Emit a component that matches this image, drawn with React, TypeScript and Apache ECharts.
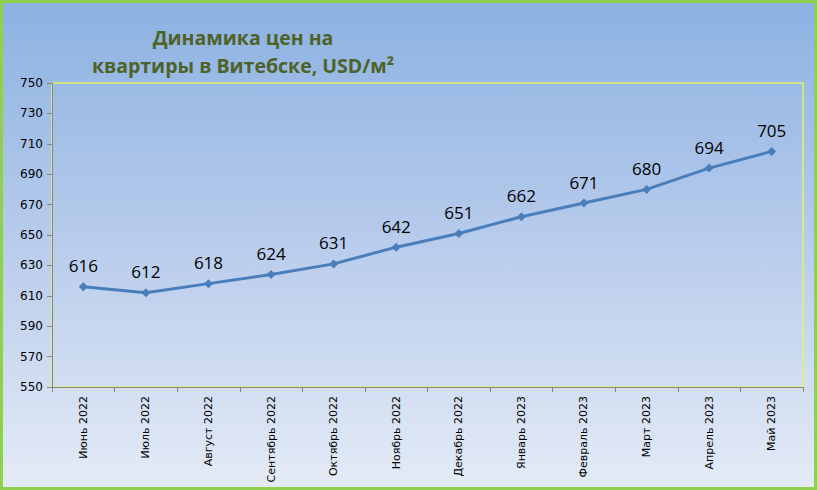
import { useEffect, useRef } from 'react'
import * as echarts from 'echarts'

const months = [
  'Июнь 2022', 'Июль 2022', 'Август 2022', 'Сентябрь 2022', 'Октябрь 2022', 'Ноябрь 2022',
  'Декабрь 2022', 'Январь 2023', 'Февраль 2023', 'Март 2023', 'Апрель 2023', 'Май 2023',
]
const prices = [616, 612, 618, 624, 631, 642, 651, 662, 671, 680, 694, 705]
const titleLines = ['Динамика цен на', 'квартиры в Витебске, USD/м²']

export default function App() {
  const chartRef = useRef<HTMLDivElement>(null)

  useEffect(() => {
    document.body.style.margin = '0'
    if (!chartRef.current) return
    const chart = echarts.init(chartRef.current, undefined, { renderer: 'svg' })

    const option: echarts.EChartsOption = {
      animation: false,
      backgroundColor: 'transparent',
      title: {
        text: titleLines.join('\n'),
        left: 238,
        top: 18,
        textAlign: 'center',
        textStyle: {
          color: '#4f6228',
          fontSize: 19.5,
          fontWeight: 'bold',
          fontFamily: 'Open Sans',
          lineHeight: 28,
        },
      },
      grid: {
        left: 52, right: 14, top: 83, bottom: 103,
        show: true, borderColor: '#e4f26a', borderWidth: 1.5,
        backgroundColor: 'transparent',
      },
      xAxis: {
        type: 'category',
        data: months,
        boundaryGap: true,
        axisLine: { lineStyle: { color: '#868686' } },
        axisTick: { show: true, alignWithLabel: false, length: 5, lineStyle: { color: '#868686' } },
        axisLabel: { rotate: 90, color: '#000', fontSize: 11, fontFamily: 'DejaVu Sans', margin: 9, interval: 0 },
        splitLine: { show: false },
      },
      yAxis: {
        type: 'value',
        min: 550,
        max: 750,
        interval: 20,
        axisLine: { show: true, lineStyle: { color: '#868686' } },
        axisTick: { show: true, length: 5, lineStyle: { color: '#868686' } },
        axisLabel: { color: '#000', fontSize: 12, fontFamily: 'DejaVu Sans', margin: 9 },
        splitLine: { show: false },
      },
      series: [
        {
          type: 'line',
          data: prices,
          symbol: 'diamond',
          symbolSize: 9,
          lineStyle: { color: '#4a7ebb', width: 3 },
          itemStyle: { color: '#4a7ebb' },
          label: {
            show: true,
            position: 'top',
            distance: 8,
            color: '#000',
            fontSize: 17,
            fontFamily: 'Open Sans',
          },
        },
      ],
    }

    chart.setOption(option)
    return () => chart.dispose()
  }, [])

  return (
    <div
      style={{
        position: 'absolute', left: 0, top: 0, width: 817, height: 490,
        boxSizing: 'border-box', border: '3px solid #8fd14f',
        background: 'linear-gradient(180deg, #8cb2e2 0%, #b4c9eb 45%, #e4ebf6 100%)',
      }}
    >
      <div ref={chartRef} style={{ position: 'absolute', left: -3, top: -3, width: 817, height: 490 }} />
    </div>
  )
}
